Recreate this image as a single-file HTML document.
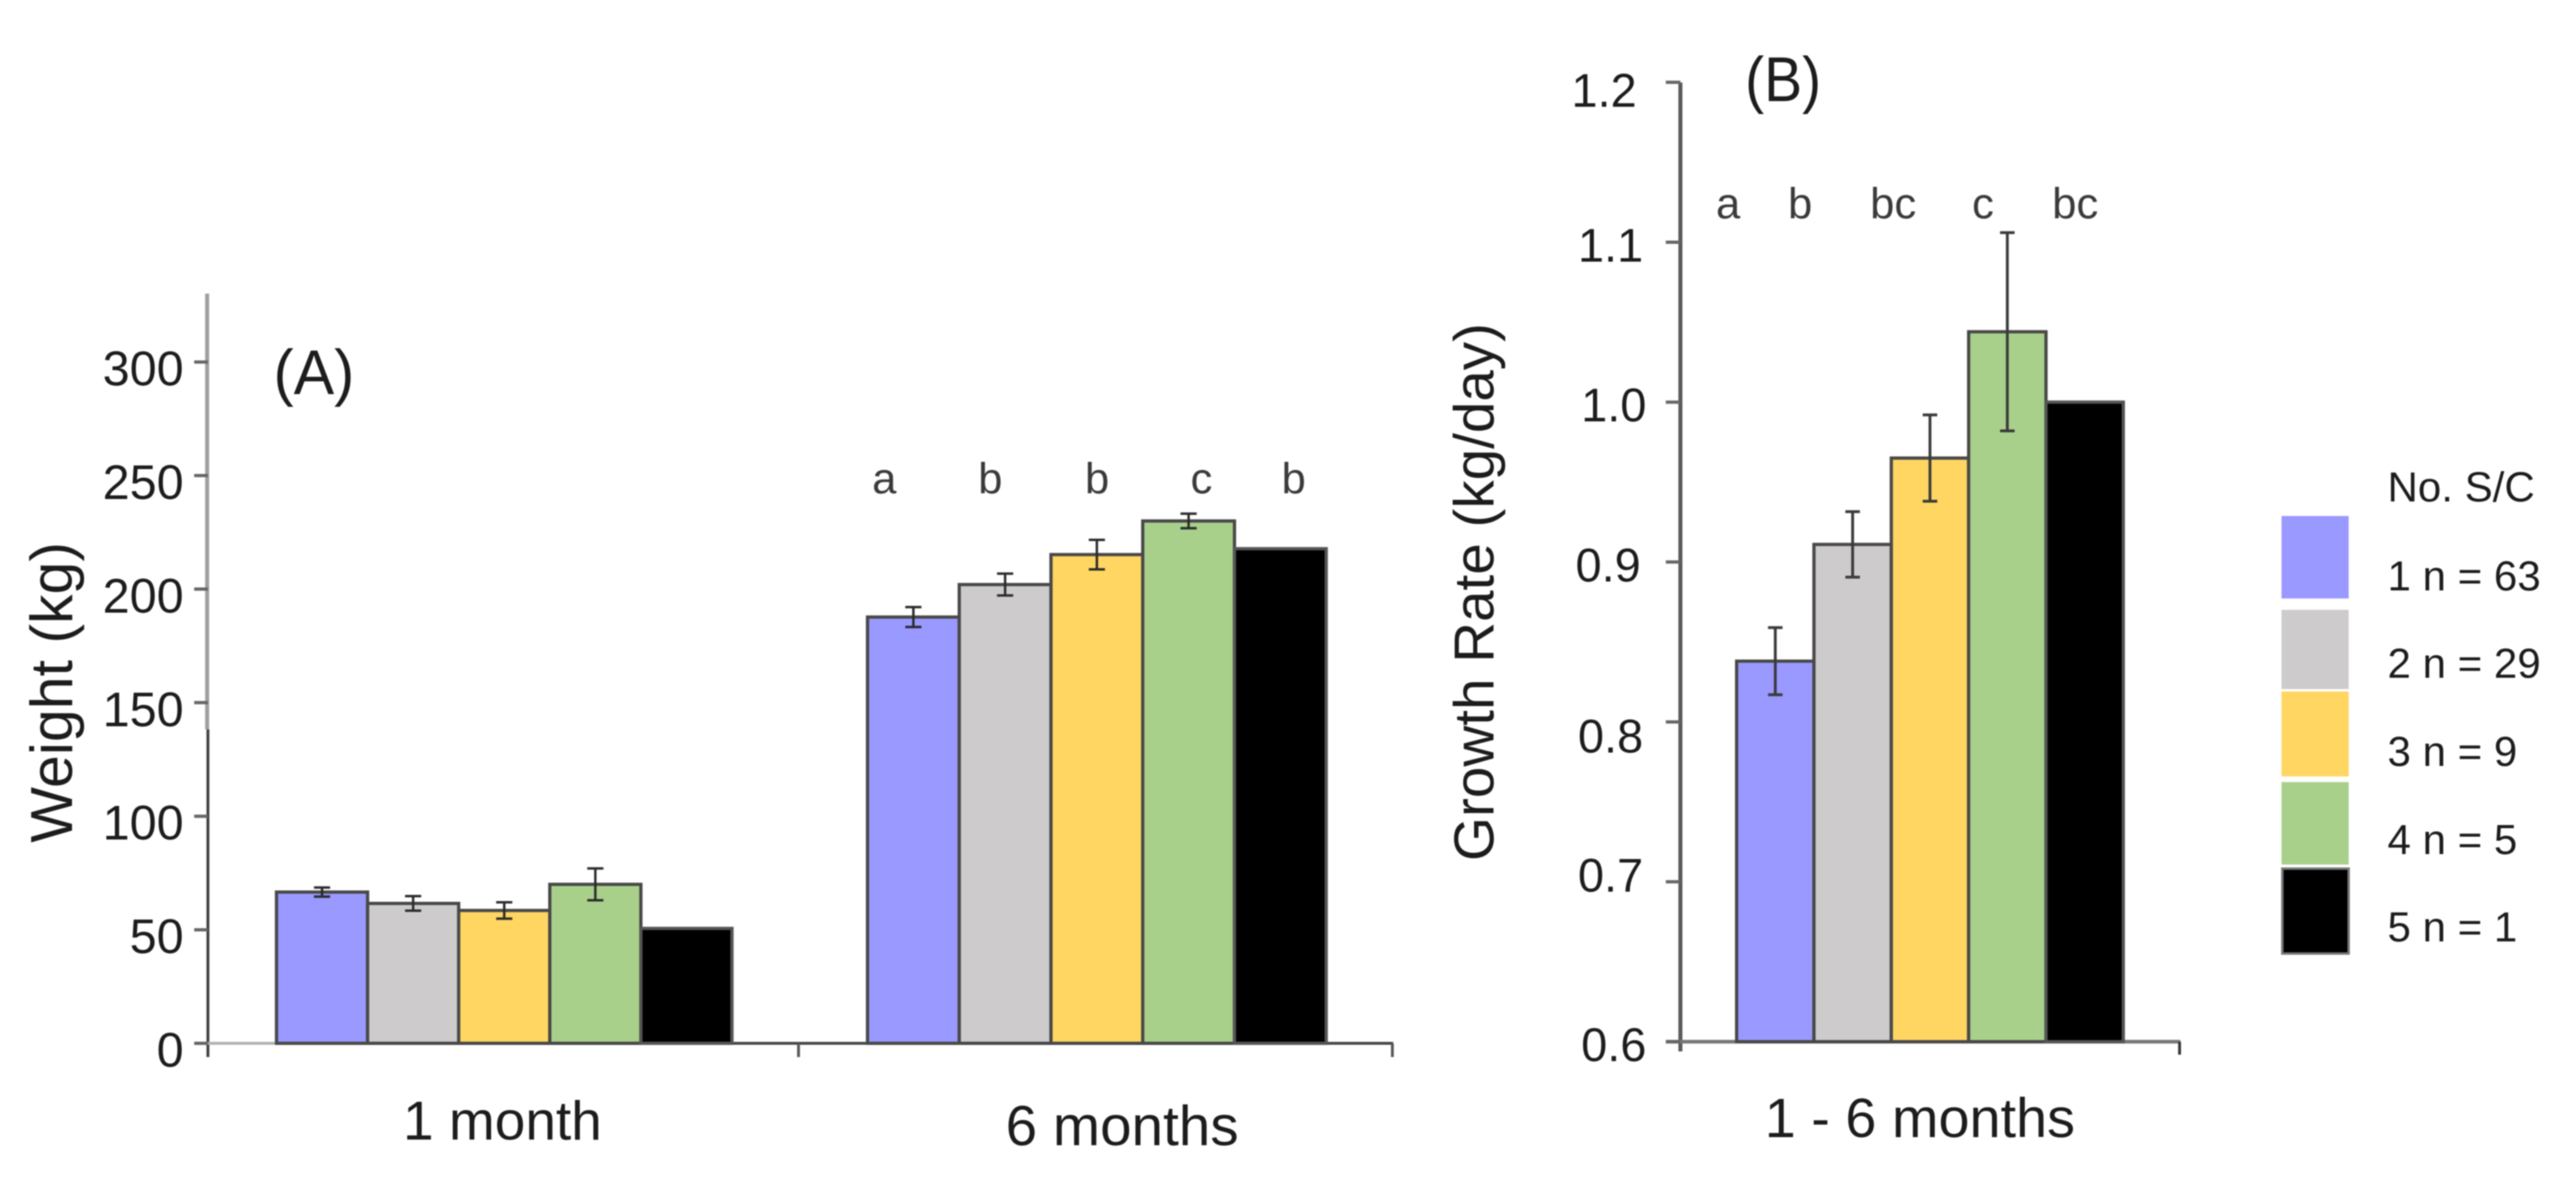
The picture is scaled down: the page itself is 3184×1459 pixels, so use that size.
<!DOCTYPE html>
<html lang="en">
<head>
<meta charset="utf-8">
<title>Weight and growth rate by number of S/C</title>
<style>
html,body{margin:0;padding:0;background:#fff;}
svg{display:block;filter:blur(0.9px);}
text{font-family:"Liberation Sans",sans-serif;fill:#1c1c1c;}
</style>
</head>
<body>
<svg id="chart" xmlns="http://www.w3.org/2000/svg" width="3184" height="1459" viewBox="0 0 3184 1459">
  <rect width="3184" height="1459" fill="#fff"/>

  <g id="panelA">
    <line x1="256" y1="363" x2="256" y2="902" stroke="#a0a0a0" stroke-width="5"/>
    <line x1="257" y1="902" x2="257" y2="1307" stroke="#3c3c3c" stroke-width="3.5"/>
    <line x1="240" y1="1290" x2="341" y2="1290" stroke="#b0b0b0" stroke-width="3.5"/>
    <line x1="341" y1="1290" x2="1722" y2="1290" stroke="#444" stroke-width="3.5"/>
    <line x1="987" y1="1290" x2="987" y2="1307" stroke="#555" stroke-width="3.5"/>
    <line x1="1721" y1="1290" x2="1721" y2="1307" stroke="#555" stroke-width="3.5"/>
    <text x="338" y="487" font-size="78" textLength="100" lengthAdjust="spacingAndGlyphs">(A)</text>
    <text transform="translate(89 856) rotate(-90)" text-anchor="middle" font-size="73">Weight (kg)</text>
    <text x="621" y="1409" text-anchor="middle" font-size="68">1 month</text>
    <text x="1387" y="1416" text-anchor="middle" font-size="70">6 months</text>
    <g font-size="54" style="fill:#333">
      <text x="1093" y="610" text-anchor="middle" style="fill:#3a3a3a">a</text>
      <text x="1224" y="610" text-anchor="middle" style="fill:#3a3a3a">b</text>
      <text x="1356" y="610" text-anchor="middle" style="fill:#3a3a3a">b</text>
      <text x="1485" y="610" text-anchor="middle" style="fill:#3a3a3a">c</text>
      <text x="1599" y="610" text-anchor="middle" style="fill:#3a3a3a">b</text>
    </g>
  </g>

  <g id="panelB">
    <line x1="2077" y1="102" x2="2077" y2="1300" stroke="#5a5a5a" stroke-width="5"/>
    <line x1="2059" y1="1288" x2="2695" y2="1288" stroke="#777" stroke-width="4.5"/>
    <line x1="2694" y1="1288" x2="2694" y2="1304" stroke="#333" stroke-width="3.5"/>
    <text x="2157" y="125" font-size="78" textLength="94" lengthAdjust="spacingAndGlyphs">(B)</text>
    <text transform="translate(1846 732) rotate(-90)" text-anchor="middle" font-size="70">Growth Rate (kg/day)</text>
    <text x="2373" y="1406" text-anchor="middle" font-size="69">1 - 6 months</text>
    <g font-size="54">
      <text x="2136" y="270" text-anchor="middle" style="fill:#3a3a3a">a</text>
      <text x="2225" y="270" text-anchor="middle" style="fill:#3a3a3a">b</text>
      <text x="2340" y="270" text-anchor="middle" style="fill:#3a3a3a">bc</text>
      <text x="2451" y="270" text-anchor="middle" style="fill:#3a3a3a">c</text>
      <text x="2565" y="270" text-anchor="middle" style="fill:#3a3a3a">bc</text>
    </g>
  </g>

  <g id="legend">
    <text x="2951" y="620" font-size="52">No. S/C</text>
    <g>
      <rect x="2820" y="638" width="83" height="102" fill="#9999ff"/>
      <text x="2951" y="730" font-size="52">1 n = 63</text>
    </g>
    <g>
      <rect x="2820" y="754" width="83" height="98" fill="#cdcbcc"/>
      <text x="2951" y="838" font-size="52">2 n = 29</text>
    </g>
    <g>
      <rect x="2820" y="855" width="83" height="105" fill="#ffd662"/>
      <text x="2951" y="947" font-size="52">3 n = 9</text>
    </g>
    <g>
      <rect x="2820" y="967" width="83" height="102" fill="#a9d08b"/>
      <text x="2951" y="1056" font-size="52">4 n = 5</text>
    </g>
    <g>
      <rect x="2821" y="1074" width="82" height="105" fill="#000" stroke="#777" stroke-width="3"/>
      <text x="2951" y="1164" font-size="52">5 n = 1</text>
    </g>
  </g>
</svg>

<script>
// Panel A data
const weightCategories = ['1 month', '6 months'];
const weight1Month = [66.6, 61.6, 58.5, 70, 50.6];
const weight6Months = [187.7, 202, 215.2, 230, 217.8];
const weightErr1Month = [2, 3.2, 3.6, 7, 0];
const weightErr6Months = [4.4, 4.8, 6.5, 3.2, 0];
const weightTicks = [0, 50, 100, 150, 200, 250, 300];

// Panel B data
const growthRate = [0.838, 0.911, 0.965, 1.044, 1.0];
const growthErr = [0.021, 0.0205, 0.027, 0.062, 0];
const growthTicks = [0.6, 0.7, 0.8, 0.9, 1.0, 1.1, 1.2];

// Series
const seriesNames = ['1-sc', '2-sc', '3-sc', '4-sc', '5-sc'];
const seriesColors = ['#9999ff', '#cdcbcc', '#ffd662', '#a9d08b', '#000000'];

const NS = 'http://www.w3.org/2000/svg';

function yA(v) { return 1290 - v * 2.808; }
function yB(v) { return 1288 - (v - 0.6) * 1977; }
function bandA(catIndex) { return 257 + 732.5 * (catIndex + 0.5); }
function bandB() { return 2385.5; }

function svgEl(tag, attrs, parent) {
  const el = document.createElementNS(NS, tag);
  for (const k in attrs) el.setAttribute(k, attrs[k]);
  parent.appendChild(el);
  return el;
}

function drawBars(parent, prefix, values, errs, center, barWidth, yScale, errColor, errWidth, capHalf) {
  const start = center - barWidth * values.length / 2;
  values.forEach(function (v, i) {
    const x = start + i * barWidth;
    const y = yScale(v);
    const bar = svgEl('rect', { x: x, y: y, width: barWidth, height: yScale.base - y, fill: seriesColors[i], stroke: i === 4 ? '#555' : '#484848', 'stroke-width': 4 }, parent);
    
    
  });
  values.forEach(function (v, i) {
    if (!errs[i]) return;
    const cx = start + (i + 0.5) * barWidth;
    const g = svgEl('g', { stroke: errColor, 'stroke-width': errWidth, fill: 'none' }, parent);
    
    
    const hi = yScale(v + errs[i]);
    const lo = yScale(v - errs[i]);
    svgEl('line', { x1: cx, x2: cx, y1: hi, y2: lo }, g);
    svgEl('line', { x1: cx - capHalf, x2: cx + capHalf, y1: hi, y2: hi }, g);
    svgEl('line', { x1: cx - capHalf, x2: cx + capHalf, y1: lo, y2: lo }, g);
  });
}

function drawYAxis(parent, prefix, ticks, yScale, fmt, tickX1, tickX2, labelX, labelDy, fontSize, nudge) {
  ticks.forEach(function (t) {
    const y = yScale(t);
    const s = fmt(t);
    const off = nudge(s);
    const tick = svgEl('line', { x1: tickX1, x2: tickX2, y1: y, y2: y, stroke: '#666', 'stroke-width': 4 }, parent);
    
    
    const label = svgEl('text', { x: labelX + off.dx, y: y + labelDy + off.dy, 'text-anchor': 'end', 'font-size': fontSize }, parent);
    
    
    label.textContent = s;
  });
}

// The original figure's hand-placed tick labels sit slightly off their ticks.
function noNudge() { return { dx: 0, dy: 0 }; }
function growthLabelNudge(label) {
  if (label === '1.2') return { dx: -8, dy: 6 };
  if (label === '1.0') return { dx: 4, dy: 0 };
  if (label === '0.9') return { dx: -3, dy: 0 };
  if (label === '0.8') return { dx: 0, dy: 14 };
  if (label === '0.7') return { dx: 0, dy: -12 };
  if (label === '0.6') return { dx: 4, dy: 0 };
  return { dx: 0, dy: 0 };
}

yA.base = yA(0);
yB.base = yB(0.6);

const panelA = document.getElementById('panelA');
const panelB = document.getElementById('panelB');

drawBars(panelA, 'one-month', weight1Month, weightErr1Month, bandA(0), 112.6, yA, '#2a2a2a', 3, 10);
drawBars(panelA, 'six-months', weight6Months, weightErr6Months, bandA(1), 113.4, yA, '#2a2a2a', 3, 10);
drawYAxis(panelA, 'panel-a', weightTicks, yA, function (t) { return String(t); }, 240, 257, 227, 29, 60, noNudge);

drawBars(panelB, 'growth', growthRate, growthErr, bandB(), 95.6, yB, '#3a3a3a', 3.5, 9);
drawYAxis(panelB, 'panel-b', growthTicks, yB, function (t) { return t.toFixed(1); }, 2059, 2077, 2031, 24, 58, growthLabelNudge);
</script>
</body>
</html>
